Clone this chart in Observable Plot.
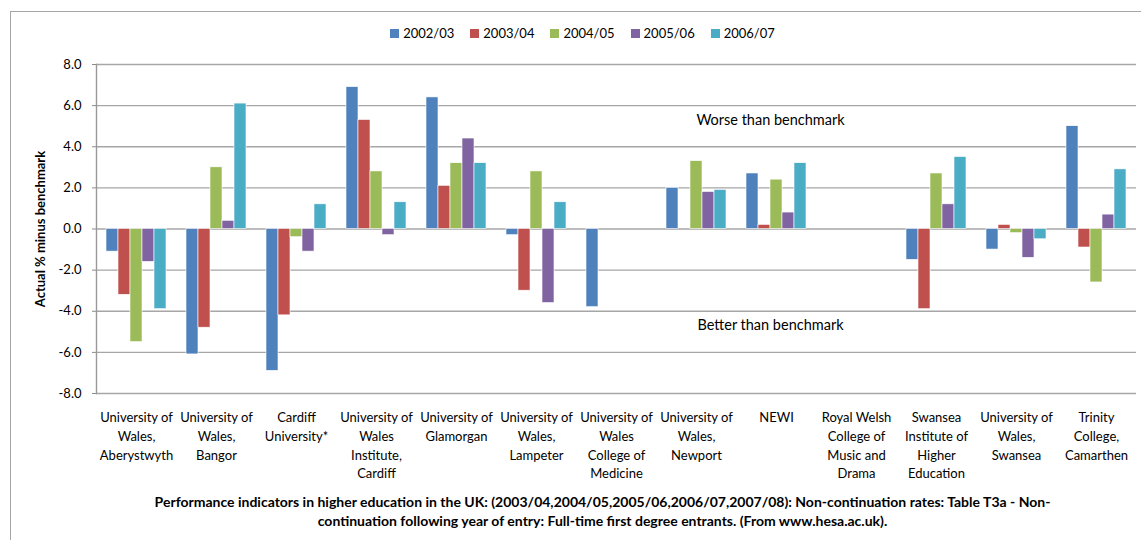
<!DOCTYPE html>
<html>
<head>
<meta charset="utf-8">
<script src="https://cdn.jsdelivr.net/npm/d3@7"></script>
<script src="https://cdn.jsdelivr.net/npm/@observablehq/plot@0.6"></script>
<style>
  html, body { margin: 0; padding: 0; background: #fff; overflow: hidden; }
  body { width: 1141px; height: 540px; position: relative; font-family: Lato, "Open Sans", sans-serif; }
  #border { position: absolute; left: 10px; top: 11px; width: 1200px; height: 600px; border: 1px solid #a6a6a6; box-sizing: border-box; }
  #legend { position: absolute; top: 25px; left: 14px; width: 1141px; display: flex; justify-content: center; font-size: 13px; color: #000; }
  #legend .item { display: flex; align-items: center; margin: 0 10px 0 6px; }
  #legend .sw { width: 9px; height: 9px; margin-right: 4px; }
  #chart { position: absolute; left: 0; top: 0; }
  #ylabel { position: absolute; left: 40px; top: 229px; transform: translate(-50%, -50%) rotate(-90deg); white-space: nowrap; font-weight: bold; font-size: 13px; color: #000; }
  #caption { position: absolute; top: 492px; left: 32px; width: 1141px; text-align: center; font-weight: bold; font-size: 14px; line-height: 19px; color: #000; }
</style>
</head>
<body>
<div id="border"></div>
<div id="legend"></div>
<div id="chart"></div>
<div id="ylabel"></div>
<div id="caption"></div>
<script>
const categories = [
  "University of\nWales,\nAberystwyth",
  "University of\nWales,\nBangor",
  "Cardiff\nUniversity*",
  "University of\nWales\nInstitute,\nCardiff",
  "University of\nGlamorgan",
  "University of\nWales,\nLampeter",
  "University of\nWales\nCollege of\nMedicine",
  "University of\nWales,\nNewport",
  "NEWI",
  "Royal Welsh\nCollege of\nMusic and\nDrama",
  "Swansea\nInstitute of\nHigher\nEducation",
  "University of\nWales,\nSwansea",
  "Trinity\nCollege,\nCamarthen"
];
const series = ["2002/03", "2003/04", "2004/05", "2005/06", "2006/07"];
const colors = ["#4F81BD", "#C0504D", "#9BBB59", "#8064A2", "#4BACC6"];

const v2002_03 = [-1.1, -6.1, -6.9, 6.9, 6.4, -0.3, -3.8, 2.0, 2.7, null, -1.5, -1.0, 5.0];
const v2003_04 = [-3.2, -4.8, -4.2, 5.3, 2.1, -3.0, null, null, 0.2, null, -3.9, 0.2, -0.9];
const v2004_05 = [-5.5, 3.0, -0.4, 2.8, 3.2, 2.8, null, 3.3, 2.4, null, 2.7, -0.2, -2.6];
const v2005_06 = [-1.6, 0.4, -1.1, -0.3, 4.4, -3.6, null, 1.8, 0.8, null, 1.2, -1.4, 0.7];
const v2006_07 = [-3.9, 6.1, 1.2, 1.3, 3.2, 1.3, null, 1.9, 3.2, null, 3.5, -0.5, 2.9];

const yTicks = [-8, -6, -4, -2, 0, 2, 4, 6, 8];
const yLabel = "Actual % minus benchmark";
const annotations = [
  {label: "Worse than benchmark", cat: "NEWI", y: 5.3},
  {label: "Better than benchmark", cat: "NEWI", y: -4.7}
];
const captionLines = [
  "Performance indicators in higher education  in the UK: (2003/04,2004/05,2005/06,2006/07,2007/08): Non-continuation rates: Table  T3a - Non-",
  "continuation following  year of entry: Full-time first degree entrants.  (From www.hesa.ac.uk)."
];

const allValues = [v2002_03, v2003_04, v2004_05, v2005_06, v2006_07];
// keep every category/series row (null values draw no bar) so no facet is empty
const table = [];
categories.forEach((c, i) => {
  series.forEach((s, j) => {
    table.push({cat: c, series: s, value: allValues[j][i]});
  });
});

// legend
const legend = document.getElementById("legend");
series.forEach((s, j) => {
  const it = document.createElement("div");
  it.className = "item";
  const sw = document.createElement("div");
  sw.className = "sw";
  sw.style.background = colors[j];
  const t = document.createElement("span");
  t.textContent = s;
  it.appendChild(sw); it.appendChild(t);
  legend.appendChild(it);
});

document.getElementById("ylabel").textContent = yLabel;
document.getElementById("caption").innerHTML = captionLines.map(l => l.replace(/&/g, "&amp;")).join("<br>");

const chart = Plot.plot({
  width: 1141,
  height: 490,
  marginTop: 64,
  marginBottom: 97,
  marginLeft: 96,
  marginRight: 5,
  style: {fontFamily: "Lato, 'Open Sans', sans-serif", fontSize: "13px", color: "#000", background: "transparent"},
  fx: {domain: categories, padding: 0, label: null},
  x: {domain: series, paddingInner: 0, paddingOuter: 0.72, axis: null},
  y: {domain: [-8, 8], label: null},
  color: {domain: series, range: colors},
  marks: [
    Plot.gridY(yTicks, {stroke: "#a6a6a6", strokeOpacity: 1, strokeWidth: 1.4}),
    Plot.axisY(yTicks, {tickFormat: d => d.toFixed(1), tickSize: 4, tickPadding: 11, stroke: "#888", label: null, fontSize: 13}),
    Plot.axisFx({anchor: "bottom", tickSize: 0, tickPadding: 15, label: null, lineHeight: 1.45, fontSize: 13}),
    Plot.barY(table, {filter: d => d.value != null, fx: "cat", x: "series", y: "value", fill: "series", stroke: "white", strokeWidth: 0.6}),
    Plot.text(annotations, {fx: "cat", y: "y", text: "label", fontSize: 14.5, dx: -6}),
    Plot.frame({anchor: "left", facetAnchor: "left", stroke: "#999", strokeWidth: 1.4})
  ]
});
document.getElementById("chart").appendChild(chart);
</script>
</body>
</html>
